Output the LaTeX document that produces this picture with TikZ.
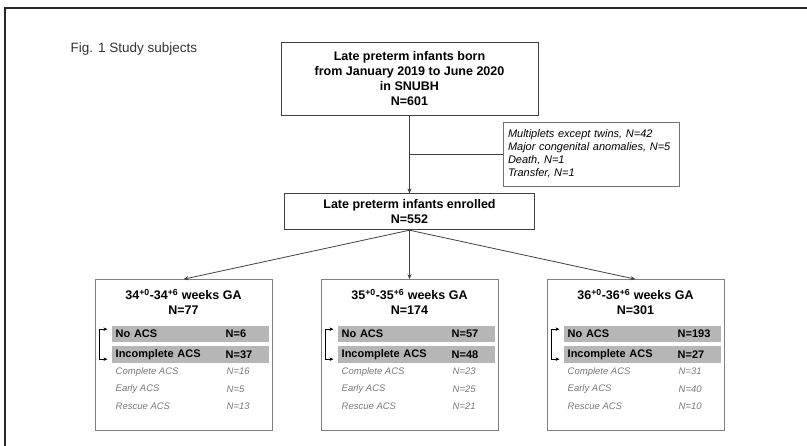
\documentclass[tikz,border=0pt]{standalone}
\usepackage{fontspec}
\setmainfont{Liberation Sans}
\usetikzlibrary{arrows.meta, positioning}
\definecolor{bandgray}{RGB}{182,182,182}
\definecolor{rowgray}{RGB}{120,120,120}
\definecolor{framegray}{RGB}{40,40,40}

\begin{document}
\begin{tikzpicture}[
  x=1pt, y=-1pt,
  every node/.style={font=\fontsize{12.5}{15}\selectfont\bfseries},
  flowbox/.style={draw=black!75, line width=0.8pt, align=center, inner sep=0pt},
  exclbox/.style={draw=black!55, line width=0.8pt, align=left, text width=166pt, inner xsep=5pt, inner ysep=0pt, minimum height=64pt, font=\fontsize{11}{13}\selectfont\itshape},
  gabox/.style={draw=black!50, line width=1pt, minimum width=177pt, minimum height=151pt, inner sep=0pt},
  band/.style={fill=bandgray, anchor=west, minimum height=16.5pt, text width=149pt, inner xsep=4pt, inner ysep=0pt, align=left, font=\fontsize{11}{13}\selectfont\bfseries},
  nval/.style={anchor=west, inner sep=0pt, font=\fontsize{11}{13}\selectfont\bfseries},
  subrow/.style={anchor=west, inner sep=0pt, text=rowgray, font=\fontsize{9.5}{11}\selectfont\itshape},
  plainline/.style={draw=black!75, line width=0.8pt},
  arrow/.style={-{Stealth[length=5pt, width=4pt]}, draw=black!75, line width=0.8pt},
  acsbracket/.style={{Stealth[length=4pt, width=3.5pt]}-{Stealth[length=4pt, width=3.5pt]}, draw=black, line width=1pt},
]
\useasboundingbox (0,0) rectangle (807,446);

% Page frame and caption
\draw[framegray, line width=1.6pt] (5,446) -- (5,8) -- (807,8);
\node[anchor=west, font=\fontsize{13.5}{16}\selectfont, text=black!80] (figtitle) at (67,49) {Fig. 1 Study subjects};

% Main flow
\node[flowbox, minimum width=257pt, minimum height=73pt] (born) at (409.5,78.5) {Late preterm infants born\\from January 2019 to June 2020\\in SNUBH\\N=601};
\node[flowbox, minimum width=250pt, minimum height=36pt, below=78pt of born] (enrolled) {Late preterm infants enrolled\\N=552};

% Exclusions
\node[exclbox] (excl) at (591,154) {Multiplets except twins, N=42\\Major congenital anomalies, N=5\\Death, N=1\\Transfer, N=1};

% Gestational age groups
\node[gabox, below=49pt of enrolled] (ga2) {};
\node[gabox, left=48pt of ga2] (ga1) {};
\node[gabox, right=48pt of ga2] (ga3) {};

% Arrows
\draw[arrow] (born) -- (enrolled);
\coordinate (split) at (born.south |- excl.west);
\draw[plainline] (split) -- (excl);
\foreach \i in {1,2,3}
  \draw[arrow] (enrolled.south) -- (ga\i.north);

% Group contents
\foreach \i/\wk/\tot/\na/\nb/\nc/\nd/\ne in {1/34/77/6/37/16/5/13, 2/35/174/57/48/23/25/21, 3/36/301/193/27/31/40/10} {
  \node[align=center] (title\i) at ([yshift=-22.5pt]ga\i.north) {\wk\textsuperscript{+0}-\wk\textsuperscript{+6} weeks GA\\N=\tot};
  \node[band] (no\i) at ([xshift=17pt,yshift=-55pt]ga\i.north west) {No ACS};
  \node[band] (inc\i) at ([xshift=17pt,yshift=-75.5pt]ga\i.north west) {Incomplete ACS};
  \node[nval] (noN\i) at ([xshift=131pt,yshift=-55pt]ga\i.north west) {N=\na};
  \node[nval] (incN\i) at ([xshift=131pt,yshift=-75.5pt]ga\i.north west) {N=\nb};
  \node[subrow] (comp\i) at ([xshift=21pt,yshift=-92.5pt]ga\i.north west) {Complete ACS};
  \node[subrow] (compN\i) at ([xshift=132pt,yshift=-92.5pt]ga\i.north west) {N=\nc};
  \node[subrow] (early\i) at ([xshift=21pt,yshift=-110pt]ga\i.north west) {Early ACS};
  \node[subrow] (earlyN\i) at ([xshift=132pt,yshift=-110pt]ga\i.north west) {N=\nd};
  \node[subrow] (resc\i) at ([xshift=21pt,yshift=-127pt]ga\i.north west) {Rescue ACS};
  \node[subrow] (rescN\i) at ([xshift=132pt,yshift=-127pt]ga\i.north west) {N=\ne};
  \draw[acsbracket] ([xshift=-4pt,yshift=5pt]no\i.west) -- ++(-8,0) |- ([xshift=-4pt,yshift=-4.5pt]inc\i.west);
}

\end{tikzpicture}
\end{document}
